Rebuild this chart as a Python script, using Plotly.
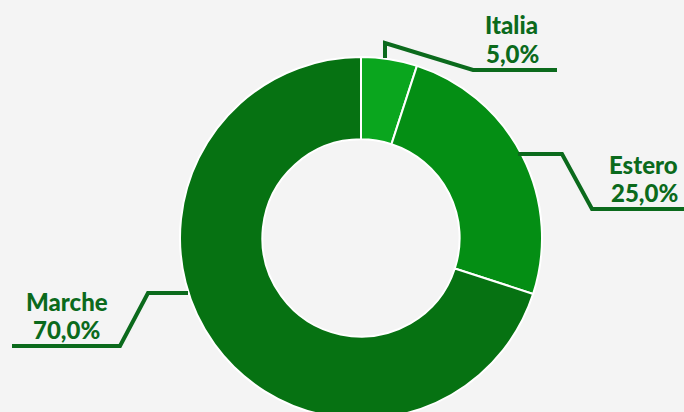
import plotly.graph_objects as go

categories = ["Italia", "Estero", "Marche"]
values = [5.0, 25.0, 70.0]
value_labels = ["5,0%", "25,0%", "70,0%"]
colors = ["#0aa61e", "#048e14", "#067212"]

W, H = 684, 419
ML, MR, MT, MB = 38, 0, 57, 0
BG = "#f4f4f4"
DARK = "#0b6a1c"


def px2paper(x, y):
    return (x - ML) / (W - ML - MR), 1 - (y - MT) / (H - MT - MB)


fig = go.Figure(
    go.Pie(
        labels=categories,
        values=values,
        hole=0.545,
        sort=False,
        direction="clockwise",
        rotation=0,
        marker=dict(colors=colors, line=dict(color="#ffffff", width=2)),
        textinfo="none",
        hoverinfo="label+percent",
        showlegend=False,
    )
)

# leader lines (pixel positions of the layout)
leaders = {
    "Italia": [(385, 58), (385, 43), (473, 70), (557, 70)],
    "Estero": [(518, 154), (562, 154), (592, 209), (684, 209)],
    "Marche": [(188, 293), (148, 293), (120, 346), (12, 346)],
}
label_pos = {
    "Italia": [(511, 24), (512, 54)],
    "Estero": [(643, 164), (644, 192)],
    "Marche": [(67, 301), (66, 329)],
}

for cat, vlab in zip(categories, value_labels):
    pts = [px2paper(x, y) for x, y in leaders[cat]]
    path = "M " + " L ".join(f"{x:.5f},{y:.5f}" for x, y in pts)
    fig.add_shape(type="path", path=path, xref="paper", yref="paper",
                  line=dict(color=DARK, width=4))
    for txt, (x, y) in zip([cat, vlab], label_pos[cat]):
        xp, yp = px2paper(x, y)
        fig.add_annotation(x=xp, y=yp, xref="paper", yref="paper",
                           text=txt, showarrow=False,
                           xanchor="center", yanchor="middle",
                           font=dict(family="Lato", size=24, color=DARK,
                                     weight=900))

fig.update_layout(
    width=W, height=H,
    margin=dict(l=ML, r=MR, t=MT, b=MB, pad=0),
    paper_bgcolor=BG, plot_bgcolor=BG,
)

fig.write_html(
    "out.html",
    config={"displayModeBar": False},
    post_script="document.body.style.margin='0px';"
                "document.body.style.overflow='hidden';",
)
